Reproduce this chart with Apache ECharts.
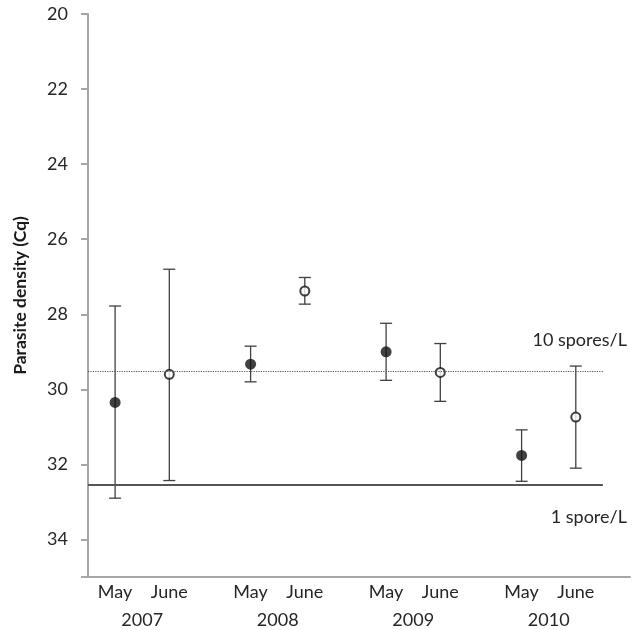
<!DOCTYPE html>
<html>
<head>
<meta charset="utf-8">
<script src="https://cdn.jsdelivr.net/npm/echarts@6/dist/echarts.min.js"></script>
<style>
  html, body { margin: 0; padding: 0; background: #fff; }
  #main { width: 636px; height: 630px; }
</style>
</head>
<body>
<div id="main"></div>
<script>
var years = ['2007', '2008', '2009', '2010'];
var months = ['May', 'June'];
// Cq values, per year: [May, June]
var meanCq = [[30.35, 29.6], [29.33, 27.38], [29.0, 29.55], [31.76, 30.74]];
var lowCq = [[27.78, 26.8], [28.85, 27.02], [28.24, 28.78], [31.08, 29.38]];
var highCq = [[32.9, 32.43], [29.8, 27.73], [29.76, 30.32], [32.45, 32.1]];
var yTicks = [20, 22, 24, 26, 28, 30, 32, 34];
var refLines = [
  { name: '10 spores/L', value: 29.53 },
  { name: '1 spore/L', value: 32.55 }
];

// x layout: two months side by side, wider gap between years
function xPos(g, m) { return 0.5 + g * 2.5 + m; }

var labelAt = {};
years.forEach(function (y, g) {
  months.forEach(function (m, j) { labelAt[xPos(g, j)] = m; });
  labelAt[xPos(g, 0) + 0.5] = '\n' + y;
});

var pts = [[], []];
var bars = [];
years.forEach(function (y, g) {
  months.forEach(function (m, j) {
    pts[j].push([xPos(g, j), meanCq[g][j]]);
    bars.push([xPos(g, j), lowCq[g][j], highCq[g][j]]);
  });
});

var chart = echarts.init(document.getElementById('main'));
var textColor = '#262626';
var font = 'Lato';

chart.setOption({
  animation: false,
  grid: { left: 88, right: 6, top: 14, bottom: 53, outerBoundsMode: 'none', containLabel: false },
  xAxis: {
    type: 'value',
    min: 0,
    max: 10,
    interval: 0.5,
    axisLine: { lineStyle: { color: '#a6a6a6', width: 2 } },
    axisTick: { show: false },
    splitLine: { show: false },
    axisLabel: {
      interval: 0,
      margin: 1,
      color: textColor,
      fontFamily: font,
      fontSize: 18,
      lineHeight: 28,
      formatter: function (v) { return labelAt[v] || ''; }
    }
  },
  yAxis: {
    type: 'value',
    inverse: true,
    min: 20,
    max: 35,
    interval: 2,
    name: 'Parasite density (Cq)',
    nameLocation: 'middle',
    nameGap: 59,
    nameTextStyle: { color: '#1a1a1a', fontFamily: font, fontWeight: 'bold', fontSize: 17.5 },
    axisLine: { show: true, lineStyle: { color: '#a6a6a6', width: 2 } },
    axisTick: { show: true, inside: false, length: 7, lineStyle: { color: '#a6a6a6', width: 2 } },
    splitLine: { show: false },
    axisLabel: {
      margin: 20,
      color: textColor,
      fontFamily: font,
      fontSize: 18,
      formatter: function (v) { return yTicks.indexOf(v) >= 0 ? String(v) : ''; }
    }
  },
  series: [
    {
      type: 'custom',
      z: 2,
      data: bars,
      renderItem: function (params, api) {
        var top = api.coord([api.value(0), api.value(1)]);
        var bot = api.coord([api.value(0), api.value(2)]);
        var half = 6;
        var style = { stroke: '#404040', lineWidth: 1.3 };
        return {
          type: 'group',
          children: [
            { type: 'line', shape: { x1: top[0], y1: top[1], x2: bot[0], y2: bot[1] }, style: style },
            { type: 'line', shape: { x1: top[0] - half, y1: top[1], x2: top[0] + half, y2: top[1] }, style: style },
            { type: 'line', shape: { x1: bot[0] - half, y1: bot[1], x2: bot[0] + half, y2: bot[1] }, style: style }
          ]
        };
      },
      markLine: {
        silent: true,
        symbol: 'none',
        data: [
          [
            { coord: [0, refLines[0].value], lineStyle: { type: 'dotted', color: '#555', width: 1.2 },
              label: { show: true, position: 'insideEndTop', formatter: refLines[0].name, offset: [29, -18] } },
            { coord: [9.5, refLines[0].value] }
          ],
          [
            { coord: [0, refLines[1].value], lineStyle: { type: 'solid', color: '#555', width: 2 },
              label: { show: true, position: 'insideEndBottom', formatter: refLines[1].name, offset: [29, 18] } },
            { coord: [9.5, refLines[1].value] }
          ]
        ],
        label: { color: textColor, fontFamily: font, fontSize: 18 }
      }
    },
    {
      name: 'May',
      type: 'scatter',
      z: 3,
      symbol: 'circle',
      symbolSize: 11,
      itemStyle: { color: '#111' },
      data: pts[0]
    },
    {
      name: 'June',
      type: 'scatter',
      z: 3,
      symbol: 'circle',
      symbolSize: 9,
      itemStyle: { color: '#fff', borderColor: '#111', borderWidth: 2 },
      data: pts[1]
    }
  ]
});
</script>
</body>
</html>
